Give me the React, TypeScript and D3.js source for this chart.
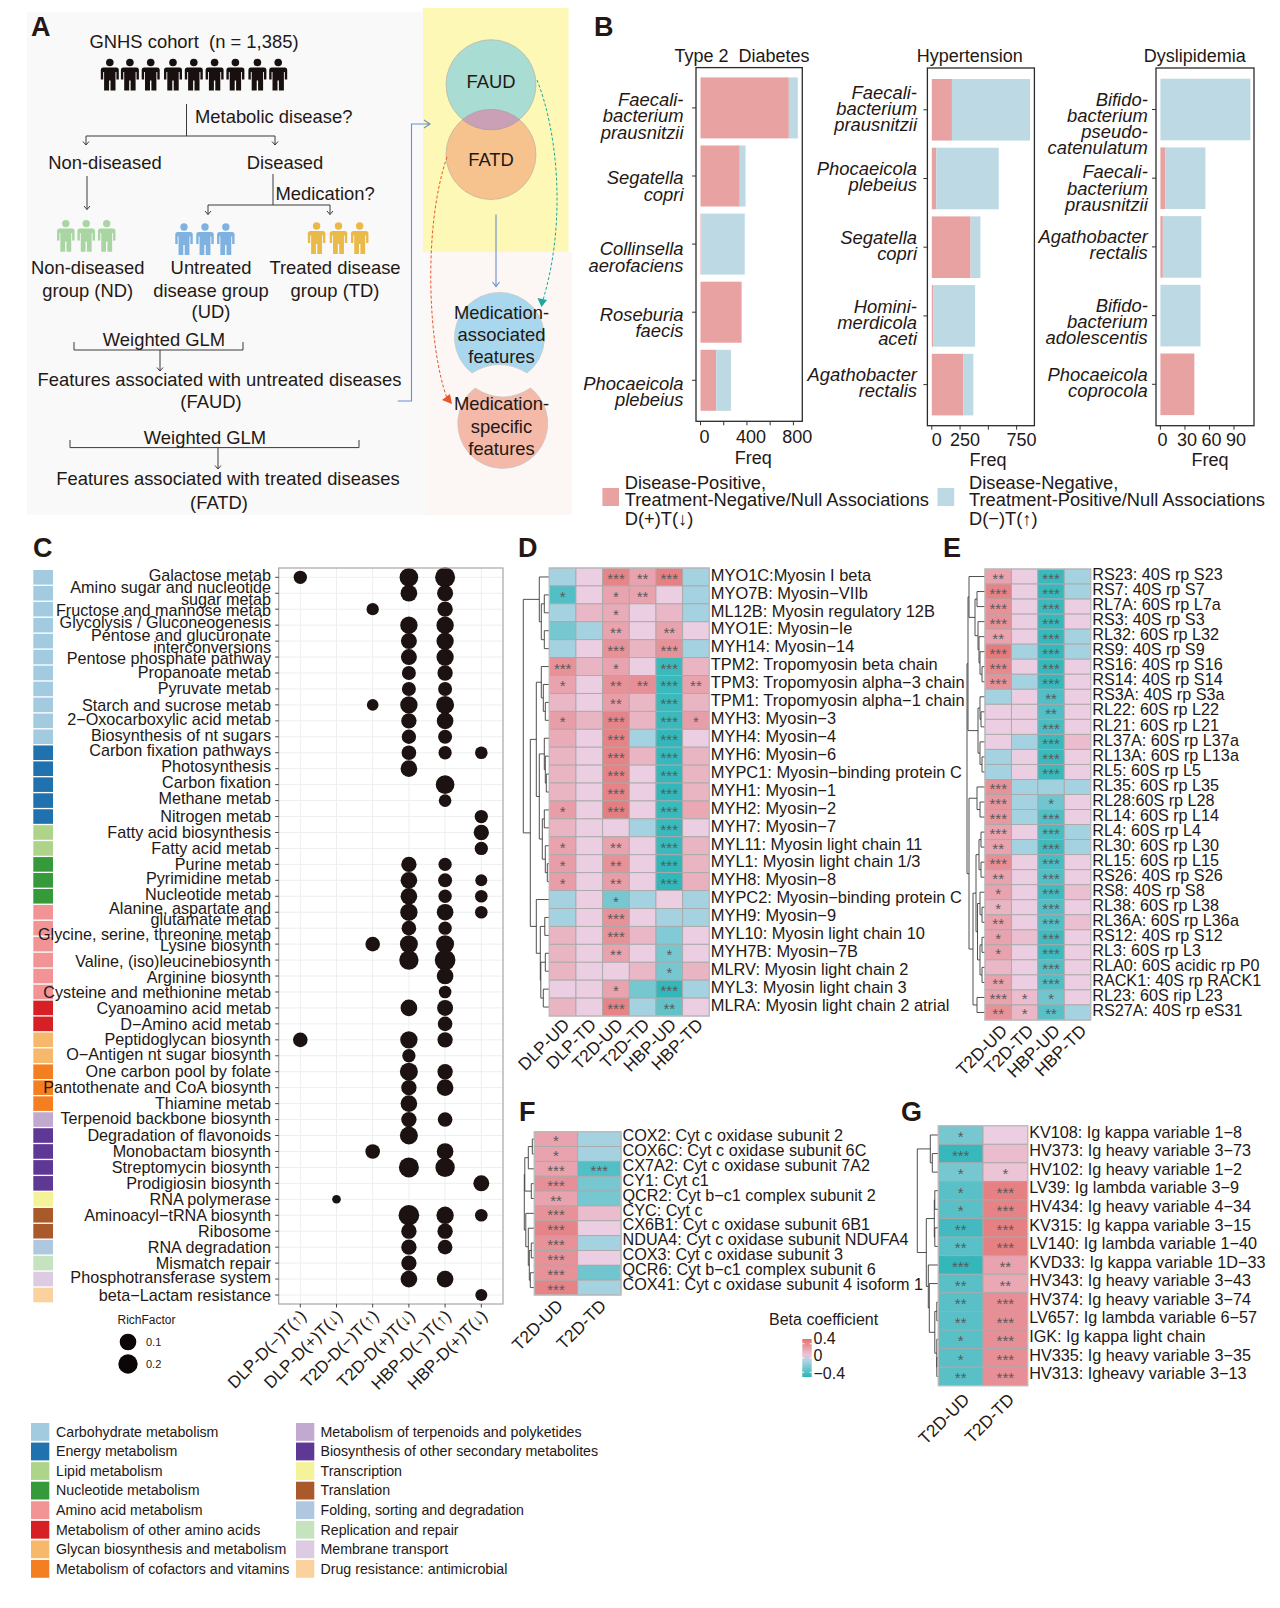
import React from "react";
import * as d3 from "d3";

const FONT = "'Liberation Sans', Arial, sans-serif";
const INK = "#231815";

// ---------- Panel B data ----------
const t2dSpecies = [["Faecali-", "bacterium", "prausnitzii"], ["Segatella", "copri"], ["Collinsella", "aerofaciens"], ["Roseburia", "faecis"], ["Phocaeicola", "plebeius"]];
const t2dPositive = [761, 338, 8, 354, 135];
const t2dNegative = [77, 50, 373, 4, 127];
const htnSpecies = [["Faecali-", "bacterium", "prausnitzii"], ["Phocaeicola", "plebeius"], ["Segatella", "copri"], ["Homini-", "merdicola", "aceti"], ["Agathobacter", "rectalis"]];
const htnPositive = [178, 39, 343, 12, 280];
const htnNegative = [690, 553, 87, 371, 87];
const dlpSpecies = [["Bifido-", "bacterium", "pseudo-", "catenulatum"], ["Faecali-", "bacterium", "prausnitzii"], ["Agathobacter", "rectalis"], ["Bifido-", "bacterium", "adolescentis"], ["Phocaeicola", "coprocola"]];
const dlpPositive = [0, 6, 3, 0, 41.5];
const dlpNegative = [110, 49, 47, 49, 0];

// ---------- Panel C data ----------
const pathwayLabels = [
  ["Galactose metab"], ["Amino sugar and nucleotide", "sugar metab"], ["Fructose and mannose metab"], ["Glycolysis / Gluconeogenesis"],
  ["Pentose and glucuronate", "interconversions"], ["Pentose phosphate pathway"], ["Propanoate metab"], ["Pyruvate metab"],
  ["Starch and sucrose metab"], ["2−Oxocarboxylic acid metab"], ["Biosynthesis of nt sugars"], ["Carbon fixation pathways"],
  ["Photosynthesis"], ["Carbon fixation"], ["Methane metab"], ["Nitrogen metab"], ["Fatty acid biosynthesis"], ["Fatty acid metab"],
  ["Purine metab"], ["Pyrimidine metab"], ["Nucleotide metab"], ["Alanine, aspartate and", "glutamate metab"],
  ["Glycine, serine, threonine metab"], ["Lysine biosynth"], ["Valine, (iso)leucinebiosynth"], ["Arginine biosynth"],
  ["Cysteine and methionine metab"], ["Cyanoamino acid metab"], ["D−Amino acid metab"], ["Peptidoglycan biosynth"],
  ["O−Antigen nt sugar biosynth"], ["One carbon pool by folate"], ["Pantothenate and CoA biosynth"], ["Thiamine metab"],
  ["Terpenoid backbone biosynth"], ["Degradation of flavonoids"], ["Monobactam biosynth"], ["Streptomycin biosynth"],
  ["Prodigiosin biosynth"], ["RNA polymerase"], ["Aminoacyl−tRNA biosynth"], ["Ribosome"], ["RNA degradation"], ["Mismatch repair"],
  ["Phosphotransferase system"], ["beta−Lactam resistance"],
];
const labelNudge = [-1.7, 0, 1.3, -2.7, 0, 1.3, -0.7, -0.7, 0, -1.3, -1.7, -2.7, -2.3, -2.7, -2.3, 0, 0, 0, 0, -2.3, -2.3, 1.7, 5.7, 1.3, 1.7, 1.3, 0, 0, 0, 0, -1, 0, 0, 0, -1, 0, 0, 0, 0, 0, 0, 0, 0, 0, -2, 0];
const pathwayClass = [0, 0, 0, 0, 0, 0, 0, 0, 0, 0, 0, 1, 1, 1, 1, 1, 2, 2, 3, 3, 3, 4, 4, 4, 4, 4, 4, 5, 5, 6, 6, 7, 7, 7, 8, 9, 9, 9, 9, 10, 11, 11, 12, 13, 14, 15];
const contrastLabels = ["DLP-D(−)T(↑)", "DLP-D(+)T(↓)", "T2D-D(−)T(↑)", "T2D-D(+)T(↓)", "HBP-D(−)T(↑)", "HBP-D(+)T(↓)"];
const richFactor = [
  [.042, 0, 0, .168, .238, 0], [0, 0, 0, .1, .084, 0], [0, 0, .032, 0, .071, 0], [0, 0, 0, .119, .119, 0], [0, 0, 0, .084, .119, 0], [0, 0, 0, .084, .119, 0],
  [0, 0, 0, .05, .071, 0], [0, 0, 0, .05, .05, 0], [0, 0, .027, .119, .141, 0], [0, 0, 0, .071, .1, 0], [0, 0, 0, .055, .05, 0], [0, 0, 0, .059, .042, .035],
  [0, 0, 0, .1, 0, 0], [0, 0, 0, 0, .168, 0], [0, 0, 0, 0, .035, 0], [0, 0, 0, 0, 0, .042], [0, 0, 0, 0, 0, .071], [0, 0, 0, 0, 0, .042],
  [0, 0, 0, .071, .042, 0], [0, 0, 0, .1, .05, .03], [0, 0, 0, .1, .042, .035], [0, 0, 0, .119, .1, .035], [0, 0, 0, .059, .042, 0], [0, 0, .059, .141, .141, 0],
  [0, 0, 0, .2, .283, 0], [0, 0, 0, 0, .1, 0], [0, 0, 0, 0, .035, 0], [0, 0, 0, .1, .084, 0], [0, 0, 0, 0, .059, 0], [.059, 0, 0, .119, .071, 0],
  [0, 0, 0, .042, 0, 0], [0, 0, 0, .141, .071, 0], [0, 0, 0, .071, .1, 0], [0, 0, 0, .1, 0, 0], [0, 0, 0, .071, .059, 0], [0, 0, 0, .141, 0, 0],
  [0, 0, .059, 0, .1, 0], [0, 0, 0, .238, .2, 0], [0, 0, 0, 0, 0, .084], [0, .0125, 0, 0, 0, 0], [0, 0, 0, .283, .119, .035], [0, 0, 0, .071, .071, 0],
  [0, 0, 0, .071, .059, 0], [0, 0, 0, .071, 0, 0], [0, 0, 0, .1, .1, 0], [0, 0, 0, 0, 0, .03],
];
const classNames = ["Carbohydrate metabolism", "Energy metabolism", "Lipid metabolism", "Nucleotide metabolism", "Amino acid metabolism", "Metabolism of other amino acids", "Glycan biosynthesis and metabolism", "Metabolism of cofactors and vitamins", "Metabolism of terpenoids and polyketides", "Biosynthesis of other secondary metabolites", "Transcription", "Translation", "Folding, sorting and degradation", "Replication and repair", "Membrane transport", "Drug resistance: antimicrobial"];
const classColors = ["#a3cbe0", "#1f72ad", "#aed48a", "#359a3a", "#f29495", "#d71f26", "#f6b96c", "#f47f20", "#c2a9cf", "#5f3795", "#f5f39a", "#aa5a2a", "#afc8e0", "#c6e3bf", "#ddcbe3", "#fbd19d"];

// ---------- Panel D data ----------
const dCols = ["DLP-UD", "DLP-TD", "T2D-UD", "T2D-TD", "HBP-UD", "HBP-TD"];
const dRows = ["MYO1C:Myosin I beta", "MYO7B: Myosin−VIIb", "ML12B: Myosin regulatory 12B", "MYO1E: Myosin−Ie", "MYH14: Myosin−14", "TPM2: Tropomyosin beta chain", "TPM3: Tropomyosin alpha−3 chain", "TPM1: Tropomyosin alpha−1 chain", "MYH3: Myosin−3", "MYH4: Myosin−4", "MYH6: Myosin−6", "MYPC1: Myosin−binding protein C", "MYH1: Myosin−1", "MYH2: Myosin−2", "MYH7: Myosin−7", "MYL11: Myosin light chain 11", "MYL1: Myosin light chain 1/3", "MYH8: Myosin−8", "MYPC2: Myosin−binding protein C", "MYH9: Myosin−9", "MYL10: Myosin light chain 10", "MYH7B: Myosin−7B", "MLRV: Myosin light chain 2", "MYL3: Myosin light chain 3", "MLRA: Myosin light chain 2 atrial"];
const dValues = [
  [-.08, .03, .32, .2, .34, -.08], [-.3, .03, .2, .2, .03, -.08], [-.08, .12, .17, .03, .12, -.08], [-.2, -.08, .2, .03, .2, .03], [-.08, .03, .27, .13, .27, -.08],
  [.27, .13, .2, .03, -.36, .13], [.2, .03, .27, .28, -.36, .2], [.12, .03, .22, .12, -.36, .13], [.22, .13, .32, .13, -.36, .22], [.17, .03, .33, -.08, -.38, .03],
  [.13, .03, .33, .13, -.37, .13], [.13, .03, .33, .03, -.37, .13], [.13, .03, .33, .03, -.38, .13], [.22, .03, .35, .03, -.36, .18], [.13, .03, .03, -.08, -.36, .03],
  [.2, .03, .2, .03, -.36, .13], [.22, .03, .27, .03, -.38, .13], [.22, .03, .22, .03, -.38, .15], [-.08, .03, -.2, -.08, .03, -.08], [-.08, .03, .27, .03, -.08, -.08],
  [.13, .03, .27, .12, -.17, .03], [.13, .03, .2, .03, -.2, .03], [.13, .03, .03, .12, -.2, .13], [.03, .03, .2, -.2, -.38, -.08], [.13, .03, .33, -.08, -.26, .03],
];
const dStars = [
  [0, 0, 3, 2, 3, 0], [1, 0, 1, 2, 0, 0], [0, 0, 1, 0, 0, 0], [0, 0, 2, 0, 2, 0], [0, 0, 3, 0, 3, 0], [3, 0, 1, 0, 3, 0], [1, 0, 2, 2, 3, 2], [0, 0, 2, 0, 3, 0], [1, 0, 3, 0, 3, 1],
  [0, 0, 3, 0, 3, 0], [0, 0, 3, 0, 3, 0], [0, 0, 3, 0, 3, 0], [0, 0, 3, 0, 3, 0], [1, 0, 3, 0, 3, 0], [0, 0, 0, 0, 3, 0], [1, 0, 2, 0, 3, 0], [1, 0, 2, 0, 3, 0], [1, 0, 2, 0, 3, 0],
  [0, 0, 1, 0, 0, 0], [0, 0, 3, 0, 0, 0], [0, 0, 3, 0, 0, 0], [0, 0, 2, 0, 1, 0], [0, 0, 0, 0, 1, 0], [0, 0, 1, 0, 3, 0], [0, 0, 3, 0, 2, 0],
];
const dTree = [26, [10, 0, [8, [5, 1, 2], [5, 3, 4]]], [19, [13, [8, 5, [6, 6, [4, 7, 8]]], [10, [5, 9, [4, 10, [3, 11, 12]]], [7, [5, 13, 14], [4, 15, [2, 16, 17]]]]], [13, 18, [9, [4.5, 19, 20], [8.5, [4, 21, 22], [6, 23, 24]]]]]];

// ---------- Panel E data ----------
const eCols = ["T2D-UD", "T2D-TD", "HBP-UD", "HBP-TD"];
const eRows = ["RS23: 40S rp S23", "RS7: 40S rp S7", "RL7A: 60S rp L7a", "RS3: 40S rp S3", "RL32: 60S rp L32", "RS9: 40S rp S9", "RS16: 40S rp S16", "RS14: 40S rp S14", "RS3A: 40S rp S3a", "RL22: 60S rp L22", "RL21: 60S rp L21", "RL37A: 60S rp L37a", "RL13A: 60S rp L13a", "RL5: 60S rp L5", "RL35: 60S rp L35", "RL28:60S rp L28", "RL14: 60S rp L14", "RL4: 60S rp L4", "RL30: 60S rp L30", "RL15: 60S rp L15", "RS26: 40S rp S26", "RS8: 40S rp S8", "RL38: 60S rp L38", "RL36A: 60S rp L36a", "RS12: 40S rp S12", "RL3: 60S rp L3", "RLA0: 60S acidic rp P0", "RACK1: 40S rp RACK1", "RL23: 60S rip L23", "RS27A: 40S rp eS31"];
const eValues = [
  [.2, .03, -.36, -.08], [.33, .03, -.37, -.08], [.27, .03, -.36, .03], [.27, .03, -.37, .03], [.2, .03, -.37, -.08], [.36, -.08, -.37, -.08], [.3, .03, -.37, .03], [.27, -.08, -.37, .03],
  [-.08, .03, -.3, .03], [.03, .03, -.3, .03], [.03, .03, -.32, .03], [.03, -.08, -.36, .1], [-.08, .03, -.36, .03], [-.08, .03, -.36, .03], [.27, -.08, -.09, -.08], [.25, -.08, -.22, .03],
  [.24, -.08, -.3, .03], [.2, .03, -.32, -.08], [.2, -.08, -.35, -.08], [.28, .03, -.32, .03], [.2, .03, -.3, .03], [.2, .03, -.34, .09], [.13, .03, -.3, .03], [.2, .03, -.3, .09],
  [.2, .09, -.34, .03], [.2, .03, -.35, .03], [.12, .03, -.3, .03], [.2, .03, -.3, .03], [.2, .1, -.22, .03], [.27, .12, -.28, -.08],
];
const eStars = [
  [2, 0, 3, 0], [3, 0, 3, 0], [3, 0, 3, 0], [3, 0, 3, 0], [2, 0, 3, 0], [3, 0, 3, 0], [3, 0, 3, 0], [3, 0, 3, 0], [0, 0, 2, 0], [0, 0, 2, 0], [0, 0, 3, 0], [0, 0, 3, 0], [0, 0, 3, 0], [0, 0, 3, 0], [3, 0, 0, 0],
  [3, 0, 1, 0], [3, 0, 3, 0], [3, 0, 3, 0], [2, 0, 3, 0], [3, 0, 3, 0], [2, 0, 3, 0], [1, 0, 3, 0], [1, 0, 3, 0], [2, 0, 3, 0], [1, 0, 3, 0], [1, 0, 3, 0], [0, 0, 3, 0], [2, 0, 3, 0], [3, 1, 1, 0], [2, 1, 2, 0],
];
const eTree = [18, [17, [16, 0, [10, [8, 1, 2], [7, 3, [6, 4, [5, 5, [3, 6, 7]]]]]], [7, [5, 8, [4, 9, 10]], [5, 11, [3, 12, 13]]]], [16, [8, 14, [5, 15, 16]], [12, [9, [6, [4, 17, 18], [4, 19, 20]], [7.5, [5, 21, [3, 22, 23]], [5, [3, 24, 25], [3, 26, 27]]]], [8, 28, 29]]]];

// ---------- Panel F data ----------
const fCols = ["T2D-UD", "T2D-TD"];
const fRows = ["COX2: Cyt c oxidase subunit 2", "COX6C: Cyt c oxidase subunit 6C", "CX7A2: Cyt c oxidase subunit 7A2", "CY1: Cyt c1", "QCR2: Cyt b−c1 complex subunit 2", "CYC: Cyt c", "CX6B1: Cyt c oxidase subunit 6B1", "NDUA4: Cyt c oxidase subunit NDUFA4", "COX3: Cyt c oxidase subunit 3", "QCR6: Cyt b−c1 complex subunit 6", "COX41: Cyt c oxidase subunit 4 isoform 1"];
const fValues = [[.2, -.08], [.2, -.08], [.2, -.3], [.28, -.2], [.2, -.2], [.27, .1], [.32, .03], [.27, -.08], [.27, .03], [.27, -.22], [.33, -.08]];
const fStars = [[1, 0], [1, 0], [3, 3], [3, 0], [2, 0], [3, 0], [3, 0], [3, 0], [3, 0], [3, 0], [3, 0]];
const fTree = [10, [9.5, [6, [2, 0, 1], 2], [3, 3, 4]], [8.5, 5, [6, 6, [5, [3, 7, 8], [4, 9, 10]]]]];

// ---------- Panel G data ----------
const gCols = ["T2D-UD", "T2D-TD"];
const gRows = ["KV108: Ig kappa variable 1−8", "HV373: Ig heavy variable 3−73", "HV102: Ig heavy variable 1−2", "LV39: Ig lambda variable 3−9", "HV434: Ig heavy variable 4−34", "KV315: Ig kappa variable 3−15", "LV140: Ig lambda variable 1−40", "KVD33: Ig kappa variable 1D−33", "HV343: Ig heavy variable 3−43", "HV374: Ig heavy variable 3−74", "LV657: Ig lambda variable 6−57", "IGK: Ig kappa light chain", "HV335: Ig heavy variable 3−35", "HV313: Igheavy variable 3−13"];
const gValues = [[-.2, .03], [-.37, .1], [-.2, .07], [-.28, .34], [-.28, .33], [-.34, .34], [-.28, .34], [-.38, .2], [-.28, .18], [-.28, .28], [-.28, .28], [-.28, .28], [-.28, .28], [-.28, .28]];
const gStars = [[1, 0], [3, 0], [1, 1], [1, 3], [1, 3], [2, 3], [2, 3], [3, 2], [2, 2], [2, 3], [2, 3], [1, 3], [1, 3], [2, 3]];
const gTree = [21, [8, 0, [6, 1, 2]], [12, [4, [3.5, 3, 4], [3.5, 5, 6]], [10, 7, [9, 8, [3.5, [1.5, 9, 10], [1.5, 11, [1.5, 12, 13]]]]]]];

// ---------- Scales ----------
const betaColor = d3.scaleLinear<string>().domain([-0.4, -0.07, 0.01, 0.4]).range(["#2cb5b8", "#a8d3e2", "#ecd3e8", "#e47171"]);
const dotRadius = d3.scaleLog().domain([0.1, 0.2]).range([8.33, 9.67]);

type TreeNode = number | [number, TreeNode, TreeNode];
function treePaths(node: TreeNode, xRight: number, yOf: (i: number) => number, out: string[]): { x: number; y: number } {
  if (typeof node === "number") return { x: xRight, y: yOf(node) };
  const [h, a, b] = node;
  const pa = treePaths(a, xRight, yOf, out);
  const pb = treePaths(b, xRight, yOf, out);
  const x = xRight - h;
  const p = d3.path();
  p.moveTo(pa.x, pa.y);
  p.lineTo(x, pa.y);
  p.lineTo(x, pb.y);
  p.lineTo(pb.x, pb.y);
  out.push(p.toString());
  return { x, y: (pa.y + pb.y) / 2 };
}

function Heatmap({ x0, x1, y0, y1, rows, cols, values, stars, tree, fs, fsX, dx, dy, rowDy }: any) {
  const xs = d3.scaleBand<number>().domain(d3.range(cols.length)).range([x0, x1]);
  const ys = d3.scaleBand<number>().domain(d3.range(rows.length)).range([y0, y1]);
  const paths: string[] = [];
  treePaths(tree, x0, (i) => (ys(i) as number) + ys.bandwidth() / 2, paths);
  return (
    <g fontFamily={FONT}>
      {paths.map((d, i) => <path key={i} d={d} fill="none" stroke="#3c3c3c" strokeWidth={0.9} />)}
      {values.map((r: number[], i: number) => r.map((v, j) => (
        <rect key={`${i}-${j}`} x={xs(j)} y={ys(i)} width={xs.bandwidth()} height={ys.bandwidth()} fill={betaColor(v)} stroke="#a9a9a9" strokeWidth={0.9} />
      )))}
      <rect x={x0} y={y0} width={x1 - x0} height={y1 - y0} fill="none" stroke="#bdbdbd" strokeWidth={1.2} />
      {stars.map((r: number[], i: number) => r.map((s, j) => s ? (
        <text key={`${i}-${j}`} x={(xs(j) as number) + xs.bandwidth() / 2} y={(ys(i) as number) + ys.bandwidth() / 2 + 7} fontSize={15} textAnchor="middle" fill="#5a5a5a">{"*".repeat(s)}</text>
      ) : null))}
      {rows.map((t: string, i: number) => (
        <text key={t} x={x1 + 1.5} y={(ys(i) as number) + ys.bandwidth() / 2 + rowDy} dy="0.35em" fontSize={fs} fill={INK}>{t}</text>
      ))}
      {cols.map((t: string, j: number) => (
        <text key={t} transform={`translate(${(xs(j) as number) + xs.bandwidth() / 2 + dx},${y1 + dy}) rotate(-45)`} fontSize={fsX} textAnchor="end" fill={INK}>{t}</text>
      ))}
    </g>
  );
}

function Person({ x, head, r, top, bottom, w, fill }: any) {
  const p = d3.path();
  const hw = w / 2;
  const t = top;
  p.moveTo(x - hw, t + 2.5);
  p.quadraticCurveTo(x - hw, t, x - hw + 2.5, t);
  p.lineTo(x + hw - 2.5, t);
  p.quadraticCurveTo(x + hw, t, x + hw, t + 2.5);
  p.lineTo(x + hw, t + 12);
  p.lineTo(x + hw - 2.4, t + 12);
  p.lineTo(x + hw - 2.4, t + 4.5);
  p.lineTo(x + hw - 3.3, t + 4.5);
  p.lineTo(x + hw - 3.3, bottom);
  p.lineTo(x + 0.7, bottom);
  p.lineTo(x + 0.7, t + 13);
  p.lineTo(x - 0.7, t + 13);
  p.lineTo(x - 0.7, bottom);
  p.lineTo(x - hw + 3.3, bottom);
  p.lineTo(x - hw + 3.3, t + 4.5);
  p.lineTo(x - hw + 2.4, t + 4.5);
  p.lineTo(x - hw + 2.4, t + 12);
  p.lineTo(x - hw, t + 12);
  p.closePath();
  return <g fill={fill}><circle cx={x} cy={head} r={r} /><path d={p.toString()} /></g>;
}

function Arrow({ x1, y1, x2, y2 }: any) {
  return (
    <g fill="none" stroke="#3a3a3a" strokeWidth={1}>
      <path d={`M${x1},${y1}L${x2},${y2}`} />
      <path d={`M${x2 - 3},${y2 - 3.5}L${x2},${y2}L${x2 + 3},${y2 - 3.5}`} />
    </g>
  );
}

function PanelA() {
  const T = ({ x, y, a = "middle", children }: any) => <text x={x} y={y} dy="0.35em" textAnchor={a} fontSize={18.4} fill={INK} style={{ whiteSpace: "pre" }}>{children}</text>;
  const black = [110.8, 130.9, 151.7, 174, 194.8, 215.6, 236.4, 258.4, 279.2];
  return (
    <g fontFamily={FONT}>
      <rect x={27} y={12} width={400} height={503} fill="#f9f9f9" />
      <rect x={427} y={252} width={145} height={263} fill="#fcf7f4" />
      <rect x={423} y={8} width={145.5} height={244} fill="#fdf8b5" />
      <T x={194} y={42}>GNHS cohort  (n = 1,385)</T>
      {black.map((x) => <Person key={x} x={x - 1} head={62.5} r={3.8} top={67.5} bottom={90.5} w={18} fill="#17100e" />)}
      <path d="M186.5,104V136" stroke="#3a3a3a" fill="none" />
      <path d="M86,136H275" stroke="#3a3a3a" fill="none" />
      <Arrow x1={86} y1={136} x2={86} y2={145} />
      <Arrow x1={275} y1={136} x2={275} y2={145} />
      <T x={195} y={117} a="start">Metabolic disease?</T>
      <T x={105} y={163}>Non-diseased</T>
      <T x={285} y={163}>Diseased</T>
      <Arrow x1={87} y1={176} x2={87} y2={209.5} />
      <path d="M273,174V205M208,205H330" stroke="#3a3a3a" fill="none" />
      <Arrow x1={208} y1={205} x2={208} y2={214.5} />
      <Arrow x1={330} y1={205} x2={330} y2={214.5} />
      <T x={275.5} y={193.6} a="start">Medication?</T>
      {[65.8, 86.2, 106.7].map((x) => <Person key={x} x={x} head={223.6} r={3.7} top={228.5} bottom={251.7} w={17.5} fill="#a8d5a2" />)}
      {[185, 206, 226.8].map((x) => <Person key={x} x={x - 1} head={227} r={3.7} top={232} bottom={255} w={17.5} fill="#7fb2e0" />)}
      {[318.6, 340.5, 361.7].map((x) => <Person key={x} x={x - 2} head={226} r={3.7} top={231} bottom={254} w={17.5} fill="#e9b949" />)}
      <T x={87.7} y={268}>Non-diseased</T>
      <T x={87.7} y={290.5}>group (ND)</T>
      <T x={211} y={268}>Untreated</T>
      <T x={211} y={290.5}>disease group</T>
      <T x={211} y={312}>(UD)</T>
      <T x={335} y={268}>Treated disease</T>
      <T x={335} y={290.5}>group (TD)</T>
      <path d="M74,342V350H243V342" stroke="#3a3a3a" fill="none" />
      <T x={164} y={340}>Weighted GLM</T>
      <Arrow x1={160} y1={350} x2={160} y2={371} />
      <T x={219.5} y={380}>Features associated with untreated diseases</T>
      <T x={211} y={402}>(FAUD)</T>
      <path d="M70,440V447.6H359V440" stroke="#3a3a3a" fill="none" />
      <T x={205} y={437.5}>Weighted GLM</T>
      <Arrow x1={218} y1={447.6} x2={218} y2={469} />
      <T x={228} y={478.7}>Features associated with treated diseases</T>
      <T x={219} y={503}>(FATD)</T>
      <g transform="translate(-3,0)">
        <path d="M400.7,401H414.5V124H433M427,120L433,124L427,128" stroke="#6a8fd0" strokeWidth={1.1} fill="none" />
        <circle cx={494} cy={154.5} r={45} fill="#f6c38f" stroke="#b9b3a0" strokeWidth={0.7} />
        <circle cx={494} cy={84.7} r={45} fill="#a9dcd2" stroke="#b9b3a0" strokeWidth={0.7} />
        <path d={`M${494 - 28.6},119.6A45,45 0 0 1 ${494 + 28.6},119.6A45,45 0 0 1 ${494 - 28.6},119.6Z`} fill="#c9a0b5" stroke="#b09aa5" strokeWidth={0.7} />
        <T x={494} y={81.4}>FAUD</T>
        <T x={494} y={160}>FATD</T>
        <path d="M499,214.5V286.5M495.5,282L499,286.5L502.5,282" stroke="#6a8fd0" strokeWidth={1.1} fill="none" />
        <path d="M540,80C560,130,570,220,546,300" stroke="#1aa89a" strokeWidth={1} strokeDasharray="3 2" fill="none" />
        <path d="M544.5,307L540.5,298L550,300Z" fill="#1aa89a" />
        <path d="M450,157C425,230,432,350,450,398" stroke="#e8562a" strokeWidth={1} strokeDasharray="3 2" fill="none" />
        <path d="M455,404L445,400L453,394Z" fill="#e8562a" />
        <path d="M475,373A45,45 0 1 1 530,373Q502,356 475,373Z" fill="#a9d8ee" stroke="#c5c5c5" strokeWidth={0.7} />
        <path d="M478,388Q506,406 533.5,388A45,45 0 1 1 478,388Z" fill="#f4b9a8" stroke="#c5c5c5" strokeWidth={0.7} />
        <T x={504.5} y={312.5}>Medication-</T>
        <T x={504.5} y={334.5}>associated</T>
        <T x={504.5} y={356.5}>features</T>
        <T x={504.5} y={404}>Medication-</T>
        <T x={504.5} y={426.4}>specific</T>
        <T x={504.5} y={448.6}>features</T>
      </g>
    </g>
  );
}

function FreqPanel({ title, titleX, box, x0, unit, maxVal, ticks, labels, rowTop, rowH, rowGap, species, pos, neg, labelX, offs, tickY, freqX, freqY, labelDx }: any) {
  const x = d3.scaleLinear().domain([0, maxVal]).range([x0, x0 + maxVal * unit]);
  const stacked = d3.stack<any>().keys(["p", "n"])(pos.map((p: number, i: number) => ({ p, n: neg[i] })));
  const colors = ["#e9a2a2", "#bdd9e4"];
  return (
    <g fontFamily={FONT} fill={INK}>
      <text x={titleX} y={56} dy="0.35em" fontSize={18} textAnchor="middle" style={{ whiteSpace: "pre" }}>{title}</text>
      {stacked.map((s, k) => s.map((d, i) => (
        <rect key={`${k}-${i}`} x={x(d[0])} y={(rowTop + i * rowGap)} width={Math.max(0, x(d[1]) - x(d[0]))} height={rowH} fill={colors[k]} />
      )))}
      <rect x={box[0]} y={box[1]} width={box[2] - box[0]} height={box[3] - box[1]} fill="none" stroke="#2b2b2b" strokeWidth={1.3} />
      {d3.range(5).map((i) => {
        const c = rowTop + i * rowGap + rowH / 2;
        const lines = species[i];
        return (
          <g key={i}>
            <path d={`M${box[0] - 4},${c}H${box[0]}`} stroke="#333" fill="none" />
            {lines.map((t: string, k: number) => (
              <text key={k} x={labelX} y={c + offs[i] + (k - (lines.length - 1) / 2) * 16.2} dy="0.35em" fontSize={18.4} fontStyle="italic" textAnchor="end">{t}</text>
            ))}
          </g>
        );
      })}
      {ticks.map((t: number) => <path key={t} d={`M${x(t)},${box[3]}v4`} stroke="#333" fill="none" />)}
      {labels.map((t: number) => <text key={t} x={x(t) + labelDx} y={tickY} dy="0.35em" fontSize={18} textAnchor="middle">{t}</text>)}
      <text x={freqX} y={freqY} dy="0.35em" fontSize={18} textAnchor="middle">Freq</text>
    </g>
  );
}

function PanelB() {
  return (
    <g>
      <FreqPanel title="Type 2  Diabetes" titleX={742} box={[696, 67.6, 802.3, 421.3]} x0={700.5} unit={0.1161} maxVal={860} ticks={[0, 200, 400, 600, 800]} labels={[0, 400, 800]} rowTop={77.4} rowH={61} rowGap={68.1} species={t2dSpecies} pos={t2dPositive} neg={t2dNegative} labelX={683.5} offs={[8, 10, 13, 10, 11]} tickY={437} freqX={753.3} freqY={458} labelDx={4} />
      <FreqPanel title="Hypertension" titleX={969.7} box={[927.4, 68, 1034.4, 425.7]} x0={931.8} unit={0.1131} maxVal={880} ticks={[0, 250, 500, 750]} labels={[0, 250, 750]} rowTop={79} rowH={61.6} rowGap={68.7} species={htnSpecies} pos={htnPositive} neg={htnNegative} labelX={917} offs={[-1, -1.7, -2, 6.7, -1.7]} tickY={440} freqX={988} freqY={459.5} labelDx={5} />
      <FreqPanel title="Dyslipidemia" titleX={1194.8} box={[1156, 68, 1254, 425.7]} x0={1160.4} unit={0.818} maxVal={112} ticks={[0, 30, 60, 90]} labels={[0, 30, 60, 90]} rowTop={78.7} rowH={61.6} rowGap={68.7} species={dlpSpecies} pos={dlpPositive} neg={dlpNegative} labelX={1147.8} offs={[14, 10, -2, 6, -1.7]} tickY={440} freqX={1210} freqY={459.5} labelDx={2} />
      <g fontFamily={FONT} fontSize={18.3} fill={INK}>
        <rect x={602.4} y={488} width={16.6} height={18} fill="#e9a2a2" />
        <text x={624.8} y={482.4} dy="0.35em">Disease-Positive,</text>
        <text x={624.8} y={500} dy="0.35em">Treatment-Negative/Null Associations</text>
        <text x={624.8} y={518.6} dy="0.35em">D(+)T(↓)</text>
        <rect x={937.5} y={488} width={16.7} height={18} fill="#bdd9e4" />
        <text x={969} y={482.4} dy="0.35em">Disease-Negative,</text>
        <text x={969} y={500} dy="0.35em">Treatment-Positive/Null Associations</text>
        <text x={969} y={518.6} dy="0.35em">D(−)T(↑)</text>
      </g>
    </g>
  );
}

function PanelC() {
  const left = 278.7, right = 503, top = 568, bottom = 1304;
  const x = d3.scalePoint<number>().domain(d3.range(6)).range([300.3, 481.3]);
  const y = d3.scalePoint<number>().domain(d3.range(46)).range([577.3, 1295]);
  return (
    <g fontFamily={FONT} fill={INK}>
      {d3.range(46).map((i) => <path key={i} d={`M${left},${y(i)}H${right}`} stroke="#eeeeee" strokeWidth={1} />)}
      {d3.range(6).map((j) => <path key={j} d={`M${x(j)},${top}V${bottom}`} stroke="#eeeeee" strokeWidth={1} />)}
      {pathwayClass.map((c, i) => <rect key={i} x={33.3} y={(y(i) as number) - 7.3} width={19.7} height={14.6} fill={classColors[c]} />)}
      {richFactor.map((r, i) => r.map((v, j) => v > 0 ? <circle key={`${i}-${j}`} cx={x(j)} cy={y(i)} r={dotRadius(v)} fill="#1b1211" /> : null))}
      <rect x={left} y={top} width={right - left} height={bottom - top} fill="none" stroke="#a8a4a4" strokeWidth={1.2} />
      {pathwayLabels.map((lines, i) => (
        <g key={i}>
          <path d={`M${left - 3.5},${y(i)}H${left}`} stroke="#444" />
          {lines.map((t, k) => (
            <text key={k} x={271} y={(y(i) as number) + labelNudge[i] + (k - (lines.length - 1) / 2) * 11.5} dy="0.35em" fontSize={16.2} textAnchor="end">{t}</text>
          ))}
        </g>
      ))}
      {contrastLabels.map((t, j) => (
        <g key={t}>
          <path d={`M${x(j)},${bottom}v3.5`} stroke="#444" />
          <text transform={`translate(${(x(j) as number) + 7},${bottom + 13}) rotate(-45)`} fontSize={17} textAnchor="end">{t}</text>
        </g>
      ))}
      <text x={146.5} y={1320} dy="0.35em" fontSize={12} textAnchor="middle">RichFactor</text>
      {[0.1, 0.2].map((v, i) => (
        <g key={v}>
          <circle cx={128} cy={1342 + i * 22} r={dotRadius(v)} fill="#0d0606" />
          <text x={146} y={1342 + i * 22} dy="0.35em" fontSize={11}>{v}</text>
        </g>
      ))}
      {classNames.map((t, i) => {
        const col = i < 8 ? 0 : 1;
        const row = i % 8;
        const yy = 1423 + row * 19.57;
        return (
          <g key={t}>
            <rect x={col ? 296 : 31} y={yy} width={18.3} height={17.8} fill={classColors[i]} />
            <text x={col ? 320.5 : 56} y={yy + 8.8} dy="0.35em" fontSize={14.2}>{t}</text>
          </g>
        );
      })}
    </g>
  );
}

const betaStops = [0.4, 0.2, 0.07, -0.07, -0.2, -0.4];
function BetaLegend() {
  const top = 1339, bot = 1377;
  const y = d3.scaleLinear().domain([0.4, -0.4]).range([top, bot]);
  return (
    <g fontFamily={FONT} fill={INK} fontSize={16}>
      <defs>
        <linearGradient id="beta" x1="0" y1="0" x2="0" y2="1">
          {betaStops.map((v) => <stop key={v} offset={(y(v) - top) / (bot - top)} stopColor={betaColor(v)} />)}
        </linearGradient>
      </defs>
      <text x={823.6} y={1319.7} dy="0.35em" textAnchor="middle">Beta coefficient</text>
      <rect x={802.3} y={top} width={9.4} height={bot - top} fill="url(#beta)" />
      {[0.3, 0, -0.3].map((v) => <path key={v} d={`M802.3,${y(v)}h2M809.7,${y(v)}h2`} stroke="#fff" />)}
      <text x={813.5} y={1338} dy="0.35em">0.4</text>
      <text x={813.5} y={1355.7} dy="0.35em">0</text>
      <text x={813.5} y={1373} dy="0.35em">−0.4</text>
    </g>
  );
}

function Letters() {
  const items: [string, number, number][] = [["A", 31, 36], ["B", 594, 36], ["C", 33, 557], ["D", 518, 557], ["E", 943, 557], ["F", 519, 1121], ["G", 901, 1121]];
  return <g fontFamily={FONT} fontWeight="bold" fontSize={27} fill={INK}>{items.map(([t, x, y]) => <text key={t} x={x} y={y}>{t}</text>)}</g>;
}

export default function App() {
  return (
    <svg width={1280} height={1608} viewBox="0 0 1280 1608" style={{ position: "absolute", left: 0, top: 0, display: "block", background: "#fff" }}>
      <PanelA />
      <PanelB />
      <PanelC />
      <Heatmap x0={549.3} x1={709.3} y0={568} y1={1016} rows={dRows} cols={dCols} values={dValues} stars={dStars} tree={dTree} fs={16.4} fsX={17.3} dx={8} dy={10} rowDy={-2} />
      <Heatmap x0={985} x1={1090.7} y0={569} y1={1020} rows={eRows} cols={eCols} values={eValues} stars={eStars} tree={eTree} fs={16.2} fsX={17.3} dx={10} dy={12} rowDy={-2} />
      <Heatmap x0={534.3} x1={621} y0={1131.7} y1={1295} rows={fRows} cols={fCols} values={fValues} stars={fStars} tree={fTree} fs={16.2} fsX={17.3} dx={8} dy={12} rowDy={-3.5} />
      <Heatmap x0={938.3} x1={1027.7} y0={1125.7} y1={1385.7} rows={gRows} cols={gCols} values={gValues} stars={gStars} tree={gTree} fs={16.2} fsX={17.3} dx={10} dy={15} rowDy={-3} />
      <BetaLegend />
      <Letters />
    </svg>
  );
}
